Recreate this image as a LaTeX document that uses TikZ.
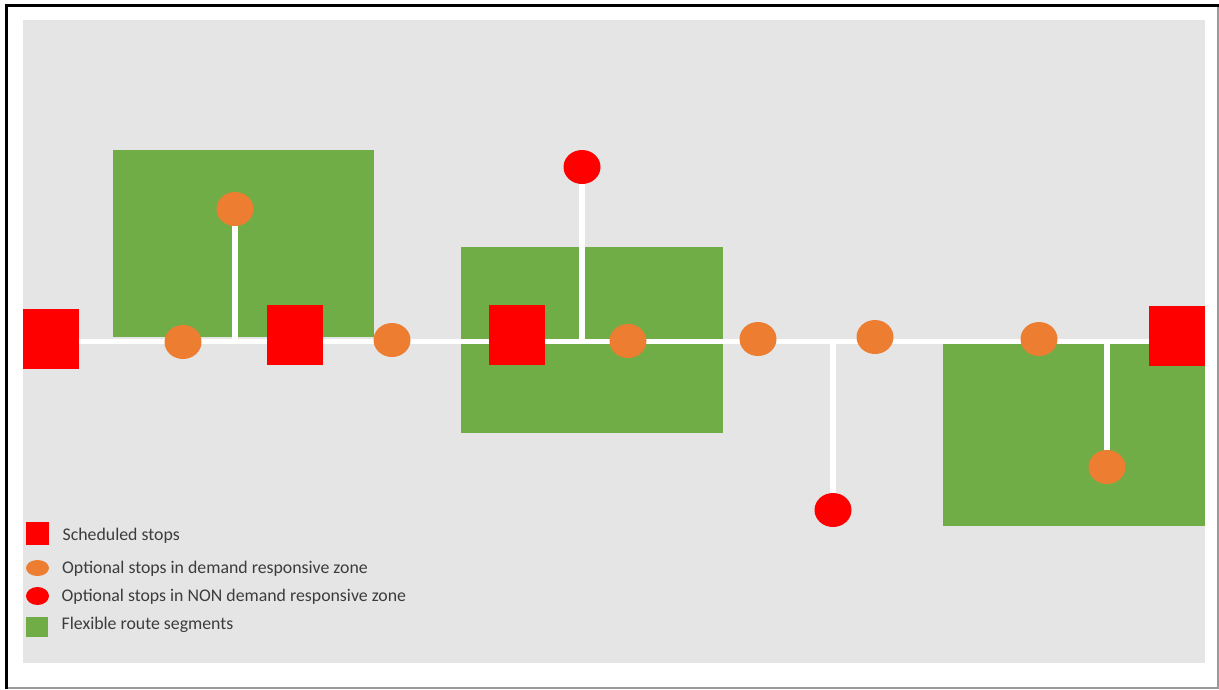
\documentclass[tikz,border=0pt]{standalone}
\usepackage{fontspec}
\setmainfont{Carlito}
\usetikzlibrary{shapes.geometric}
\definecolor{zonegrey}{HTML}{E5E5E5}
\definecolor{flexgreen}{HTML}{70AD47}
\definecolor{optorange}{HTML}{ED7D31}
\definecolor{legendgrey}{HTML}{3C3C3C}
\pgfdeclarelayer{bg}
\pgfsetlayers{bg,main}
\tikzset{
    sched/.style={rectangle, fill=red, inner sep=0pt, minimum width=56pt, minimum height=60pt},
    optdrz/.style={ellipse, fill=optorange, inner sep=0pt, minimum width=37pt, minimum height=34pt},
    optnon/.style={ellipse, fill=red, inner sep=0pt, minimum width=37pt, minimum height=34pt},
    road/.style={white, line width=5pt},
    legtext/.style={anchor=base west, inner sep=0pt, text=legendgrey, font=\fontsize{17.8}{20}\selectfont}
}

\begin{document}
\begin{tikzpicture}[x=1pt,y=-1pt]
\useasboundingbox (0,0) rectangle (1219,689);
\def\routey{341}
\coordinate (route) at (0,\routey);
% stops on the route
\foreach \p/\x/\y in {s1/50.5/339, s2/295/335, s3/517/335, s4/1177/335.5}{
    \node[sched] (\p) at (\x,\y) {};
}
\foreach \p/\x/\y in {o1/183/342, o2/235/209, o3/392/340, o4/628/341, o5/758/339, o6/875/337, o7/1039/339, o8/1107/467}{
    \node[optdrz] (\p) at (\x,\y) {};
}
\node[optnon] (r1) at (582,167) {};
\node[optnon] (r2) at (833,510) {};
% legend
\node[rectangle, fill=red, inner sep=0pt, minimum size=23pt] (ksched) at (37.5,533.5) {};
\node[ellipse, fill=optorange, inner sep=0pt, minimum width=23pt, minimum height=16pt] (kdrz) at (37.5,568) {};
\node[ellipse, fill=red, inner sep=0pt, minimum width=23pt, minimum height=18pt] (knon) at (37.5,596) {};
\node[rectangle, fill=flexgreen, inner sep=0pt, minimum width=22pt, minimum height=20pt] (kflex) at (37,627) {};
\node[legtext] (tsched) at (62.5,540) {Scheduled stops};
\node[legtext] (tdrz) at (62,573) {Optional stops in demand responsive zone};
\node[legtext] (tnon) at (61.5,601) {Optional stops in NON demand responsive zone};
\node[legtext] (tflex) at (61.5,629) {Flexible route segments};
\begin{pgfonlayer}{bg}
% frame
\draw[black!40, line width=1.5pt] (6,688) -- (1218,688) -- (1218,6);
\draw[line width=3pt] (6.5,689) -- (6.5,5.5) -- (1219,5.5);
\fill[zonegrey] (23,20) rectangle (1205,663);
% flexible route segments
\foreach \xa/\ya/\xb/\yb in {113/150/374/337, 461/247/723/433, 943/344/1205/526}{
    \fill[flexgreen] (\xa,\ya) rectangle (\xb,\yb);
}
% route and branches
\draw[road] (s1.center |- route) -- (s4.center |- route);
\foreach \p in {o2, r1, r2, o8}{
    \draw[road, line width=6pt] (\p |- route) -- (\p);
}
\end{pgfonlayer}
\end{tikzpicture}
\end{document}
